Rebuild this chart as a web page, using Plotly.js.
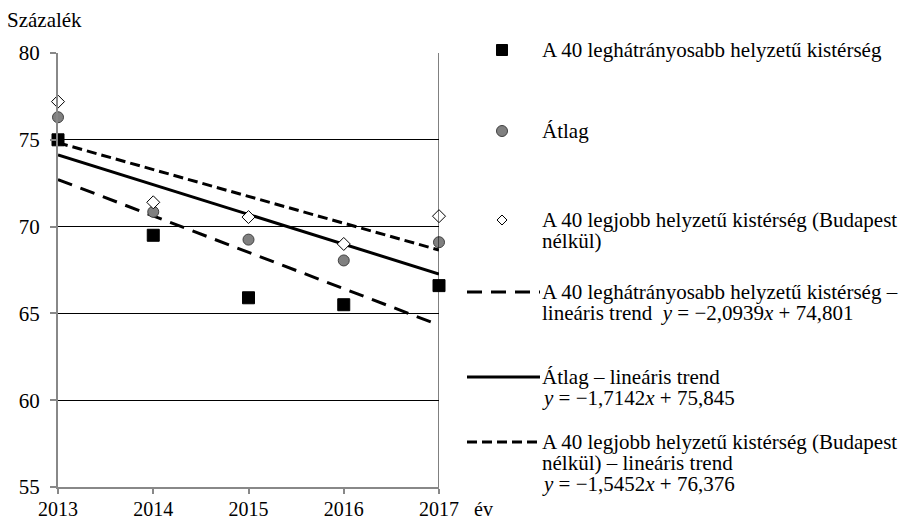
<!DOCTYPE html>
<html>
<head>
<meta charset="utf-8">
<script src="https://cdn.plot.ly/plotly-3.0.1.min.js"></script>
<style>html,body{margin:0;padding:0;background:#fff;}#chart{width:901px;height:520px;}</style>
</head>
<body>
<div id="chart"></div>
<script>
// ---- data ----
const years = [2013, 2014, 2015, 2016, 2017];
const disadvantaged = [75.0, 69.5, 65.9, 65.5, 66.6];
const average = [76.3, 70.85, 69.25, 68.05, 69.1];
const best = [77.2, 71.4, 70.55, 69.0, 70.6];
const trendYears = [2013, 2017];
const disTrend = [72.71, 64.33];
const avgTrend = [74.13, 67.27];
const bestTrend = [74.83, 68.65];
const yTicks = [55, 60, 65, 70, 75, 80];

const legendLabels = [
  ["A 40 leghátrányosabb helyzetű kistérség"],
  ["Átlag"],
  ["A 40 legjobb helyzetű kistérség (Budapest", "nélkül)"],
  ["A 40 leghátrányosabb helyzetű kistérség –", "lineáris trend  <i>y</i> = −2,0939<i>x</i> + 74,801"],
  ["Átlag – lineáris trend", "<i>y</i> = −1,7142<i>x</i> + 75,845"],
  ["A 40 legjobb helyzetű kistérség (Budapest", "nélkül) – lineáris trend", "<i>y</i> = −1,5452<i>x</i> + 76,376"]
];

// ---- geometry helpers (plot area in pixels) ----
const L = 58, R = 439, T = 53, B = 487;
const px = x => (x - L) / (R - L);
const py = y => (B - y) / (B - T);

const FONT = "Liberation Serif";
const FS = 21;
const TICK_FS = 20;

const LONG_DASH = '15px,9px';
const SHORT_DASH = '10px,5px';

const traces = [
  {x: trendYears, y: disTrend, mode: 'lines', line: {color: '#000', width: 3, dash: LONG_DASH}, cliponaxis: false},
  {x: trendYears, y: avgTrend, mode: 'lines', line: {color: '#000', width: 3}, cliponaxis: false},
  {x: trendYears, y: bestTrend, mode: 'lines', line: {color: '#000', width: 3, dash: SHORT_DASH}, cliponaxis: false},
  {x: years, y: disadvantaged, mode: 'markers', cliponaxis: false,
   marker: {symbol: 'square', size: 12, color: '#000', line: {color: '#000', width: 1}}},
  {x: years, y: average, mode: 'markers', cliponaxis: false,
   marker: {symbol: 'circle', size: 11, color: '#808080', line: {color: '#404040', width: 1}}},
  {x: years, y: best, mode: 'markers', cliponaxis: false,
   marker: {symbol: 'diamond', size: 10, color: '#fff', line: {color: '#000', width: 1}}}
];

// legend geometry
const markerX = 502, textX = 540;
const lineX0 = 467, lineX1 = 540;
const legendY = [50, 131, 220, 292, 377, 442];
const lineGap = 21;

const annotations = [];
const shapes = [];

legendLabels.forEach((lines, i) => {
  lines.forEach((t, j) => {
    annotations.push({xref: 'paper', yref: 'paper', x: px(textX), y: py(legendY[i] + j * lineGap),
      xanchor: 'left', yanchor: 'middle', text: t, showarrow: false,
      font: {family: FONT, size: FS, color: '#000'}});
  });
});

// legend marker samples (shapes in paper coords)
const sq = 5.5;
shapes.push({type: 'rect', xref: 'paper', yref: 'paper',
  x0: px(markerX - sq), x1: px(markerX + sq), y0: py(legendY[0] + sq), y1: py(legendY[0] - sq),
  fillcolor: '#000', line: {color: '#000', width: 1}});
const cr = 5.5;
shapes.push({type: 'circle', xref: 'paper', yref: 'paper',
  x0: px(markerX - cr), x1: px(markerX + cr), y0: py(legendY[1] + cr), y1: py(legendY[1] - cr),
  fillcolor: '#808080', line: {color: '#404040', width: 1}});
const dr = 5;
const dy = legendY[2];
shapes.push({type: 'path', xref: 'paper', yref: 'paper',
  path: `M ${px(markerX)} ${py(dy - dr)} L ${px(markerX + dr)} ${py(dy)} L ${px(markerX)} ${py(dy + dr)} L ${px(markerX - dr)} ${py(dy)} Z`,
  fillcolor: '#fff', line: {color: '#000', width: 1}});
[LONG_DASH, 'solid', SHORT_DASH].forEach((d, i) => {
  shapes.push({type: 'line', xref: 'paper', yref: 'paper',
    x0: px(lineX0), x1: px(lineX1), y0: py(legendY[3 + i]), y1: py(legendY[3 + i]),
    line: {color: '#000', width: 3, dash: d}});
});

// right border
shapes.push({type: 'line', xref: 'x', yref: 'y', x0: 2017, x1: 2017, y0: 55, y1: 80, line: {color: '#000', width: 1}});

annotations.push({xref: 'paper', yref: 'paper', x: px(5), y: py(20), xanchor: 'left', yanchor: 'middle',
  text: 'Százalék', showarrow: false, font: {family: FONT, size: FS, color: '#000'}});
annotations.push({xref: 'paper', yref: 'paper', x: px(472), y: py(509), xanchor: 'left', yanchor: 'middle',
  text: 'év', showarrow: false, font: {family: FONT, size: TICK_FS, color: '#000'}});

const layout = {
  width: 901, height: 520,
  margin: {l: L, r: 901 - R, t: T, b: 520 - B, pad: 0},
  paper_bgcolor: '#fff', plot_bgcolor: '#fff',
  showlegend: false,
  font: {family: FONT, size: FS, color: '#000'},
  xaxis: {range: [2013, 2017], tickvals: years, ticktext: years.map(String), showgrid: false, zeroline: false,
    showline: true, linecolor: '#888', linewidth: 2, ticks: 'outside', ticklen: 5, tickcolor: '#888', tickwidth: 2,
    tickfont: {family: FONT, size: TICK_FS, color: '#000'}, ticklabelstandoff: -2},
  yaxis: {range: [55, 80], tickvals: yTicks, showgrid: true, gridcolor: '#000', gridwidth: 1, zeroline: false,
    showline: true, linecolor: '#888', linewidth: 2, ticks: 'outside', ticklen: 6, tickcolor: '#888', tickwidth: 2,
    tickfont: {family: FONT, size: FS, color: '#000'}, ticklabelstandoff: 6},
  shapes: shapes,
  annotations: annotations
};

Plotly.newPlot('chart', traces, layout, {displayModeBar: false, staticPlot: true});
</script>
</body>
</html>
